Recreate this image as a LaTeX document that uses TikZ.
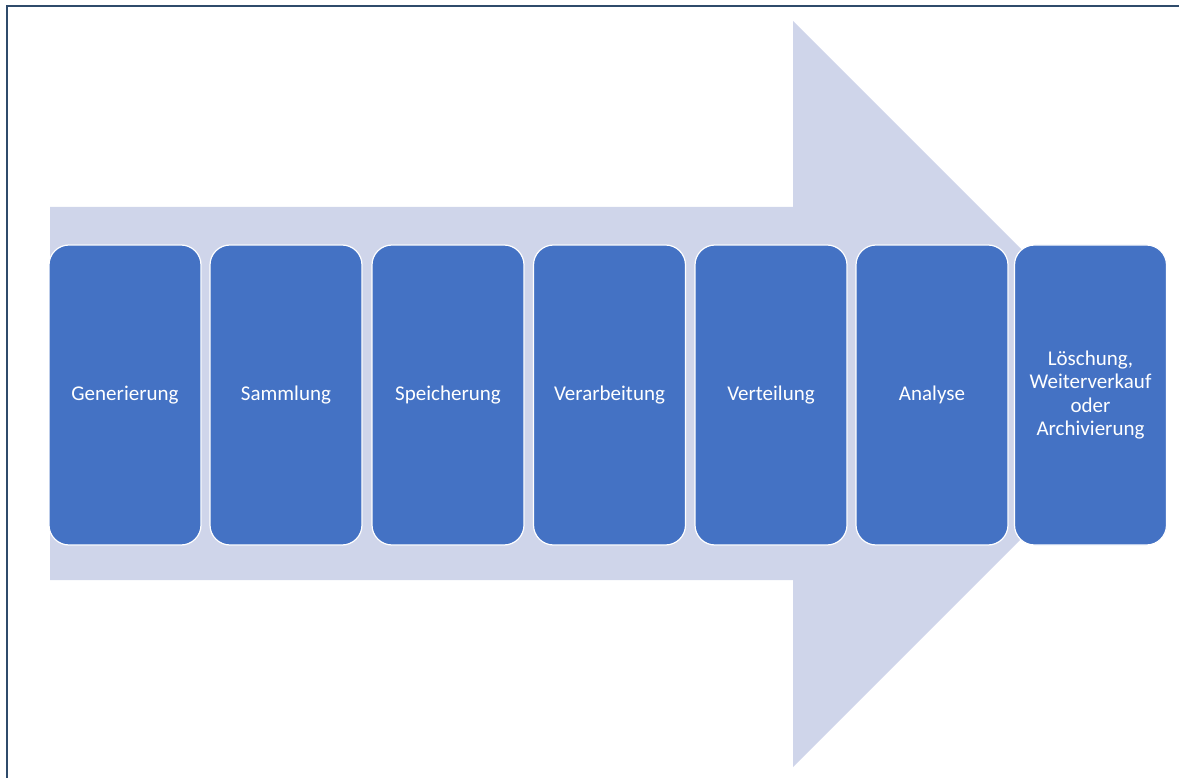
\documentclass[tikz,border=0pt]{standalone}
\usepackage{fontspec}
\setmainfont{Carlito}
\definecolor{frameblue}{HTML}{2F4B6B}
\definecolor{arrowfill}{HTML}{CFD5EA}
\definecolor{stagefill}{HTML}{4472C4}
\begin{document}
\begin{tikzpicture}[x=1pt,y=-1pt,
  stagebox/.style={draw=white, line width=1.2pt, fill=stagefill,
    rounded corners=20pt, minimum width=152pt, minimum height=300pt,
    inner sep=0pt, text=white, align=center,
    font=\fontsize{21}{23.5}\selectfont, text width=150pt}]
  \useasboundingbox (0,0) rectangle (1179,778);
  % frame edges
  \draw[frameblue, line width=2pt] (7,778) -- (7,6) -- (1179,6);
  % big process arrow in the background
  \fill[arrowfill] (50,207) -- (793,207) -- (793,21) -- (1166,394)
    -- (793,767) -- (793,580) -- (50,580) -- cycle;
  % stages
  \node[stagebox] (s1) at (125,395) {Generierung};
  \node[stagebox] (s2) at (286,395) {Sammlung};
  \node[stagebox] (s3) at (448,395) {Speicherung};
  \node[stagebox] (s4) at (609.5,395) {Verarbeitung};
  \node[stagebox] (s5) at (771,395) {Verteilung};
  \node[stagebox] (s6) at (932,395) {Analyse};
  \node[stagebox] (s7) at (1090.5,395) {Löschung,\\Weiterverkauf\\oder\\Archivierung};
\end{tikzpicture}
\end{document}
